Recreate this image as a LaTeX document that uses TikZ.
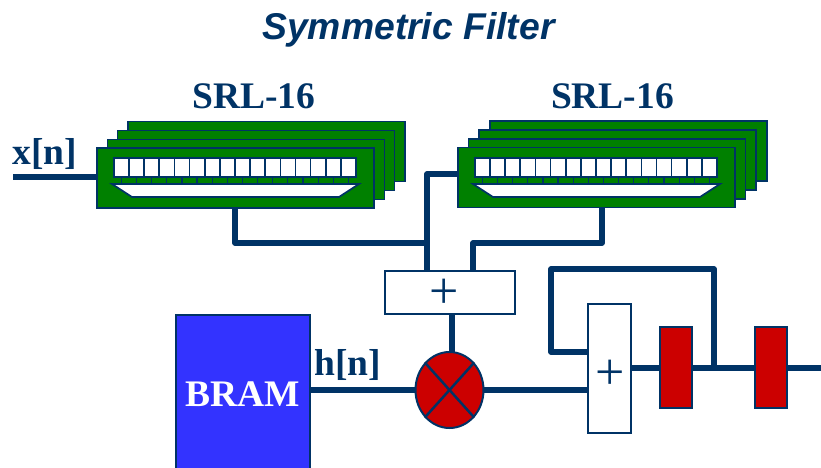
\documentclass[tikz,border=0pt]{standalone}
\usepackage{fontspec}
\setmainfont{Liberation Serif}
\newfontfamily\titlefont{Liberation Sans}
\usetikzlibrary{chains,shapes}
\definecolor{navy}{HTML}{003366}
\definecolor{srlgreen}{HTML}{008000}
\definecolor{mulred}{HTML}{CC0000}
\definecolor{bramblue}{HTML}{3333FF}
\tikzstyle{srlbox}=[draw=navy,fill=srlgreen,line width=1.7pt,minimum width=277pt,minimum height=60pt,outer sep=0pt]
\tikzstyle{cell}=[draw=navy,fill=white,line width=1.7pt,minimum width=15.13pt,minimum height=19pt,inner sep=0pt,outer sep=0pt]
\tikzstyle{tooth}=[draw=navy,fill=srlgreen,line width=1.2pt,minimum width=15.13pt,minimum height=7pt,inner sep=0pt,outer sep=0pt]
\tikzstyle{mux}=[draw=navy,fill=white,line width=1.7pt]
\tikzstyle{addbox}=[draw=navy,fill=white,line width=1.5pt,inner sep=0pt,outer sep=0pt]
\tikzstyle{regbox}=[draw=navy,fill=mulred,line width=1.5pt,minimum width=32pt,minimum height=81pt,outer sep=0pt]
\tikzstyle{wire}=[draw=navy,line width=5.5pt,line join=round]
\tikzstyle{lbl}=[text=navy,font=\fontsize{37.5}{37.5}\selectfont\bfseries,inner sep=0pt]
\tikzstyle{plus}=[text=navy,font=\fontsize{52}{52}\selectfont,inner sep=0pt]

\begin{document}
\begin{tikzpicture}[x=1pt,y=-1pt]
\useasboundingbox (0,0) rectangle (821,467);
\node [text=navy,font=\titlefont\fontsize{37.3}{37.3}\selectfont\bfseries\itshape,inner sep=0pt] (title) at (408.5,30) {Symmetric Filter};
\node [lbl] (srlAlabel) at (254,96) {SRL-16};
\node [lbl] (srlBlabel) at (612.5,96) {SRL-16};
\node [lbl] (xlabel) at (45,154) {x[n]};
\node [lbl] (hlabel) at (348,365) {h[n]};

% connectors
\coordinate (xin) at (13,177);
\coordinate (tapA) at (428,243);
\coordinate (tapB) at (458,174);
\coordinate (bendB) at (473,243);
\coordinate (addAinA) at (427,271);
\coordinate (addAinB) at (473,271);
\coordinate (srlAout) at (235,208);
\coordinate (srlBout) at (602,207);
\coordinate (multin) at (452,352);
\coordinate (fbtap) at (714,368);
\coordinate (fbcorner) at (551,269);
\coordinate (fbin) at (588,352);
\coordinate (out) at (821,368);
\draw [wire] (xin) -- (97,177);
\draw [wire] (srlAout) |- (tapA);
\draw [wire] (tapB) -| (addAinA);
\draw [wire] (srlBout) |- (bendB) -- (addAinB);
\draw [wire] (multin) -- (452,314);
\draw [wire] (fbtap) |- (fbcorner) |- (fbin);
\draw [wire] (310,390) -- (588,390);
\draw [wire] (631,368) -- (out);

% left stack
\node [srlbox] (srlAd) at (266.5,151.5) {};
\node [srlbox] (srlAc) at (256,160.5) {};
\node [srlbox] (srlAb) at (246,169.5) {};
\node [srlbox] (srlAa) at (235.5,178) {};
\begin{scope}[start chain=teethA going right, node distance=0pt]
    \node [on chain=teethA,tooth] at (129,180.5) {};
    \node [on chain=teethA,tooth] {};
    \node [on chain=teethA,tooth] {};
    \node [on chain=teethA,tooth] {};
    \node [on chain=teethA,tooth] {};
    \node [on chain=teethA,tooth] {};
    \node [on chain=teethA,tooth] {};
    \node [on chain=teethA,tooth] {};
    \node [on chain=teethA,tooth] {};
    \node [on chain=teethA,tooth] {};
    \node [on chain=teethA,tooth] {};
    \node [on chain=teethA,tooth] {};
    \node [on chain=teethA,tooth] {};
    \node [on chain=teethA,tooth] {};
    \node [on chain=teethA,tooth] {};
\end{scope}
\begin{scope}[start chain=cellsA going right, node distance=0pt]
    \node [on chain=cellsA,cell] at (121.5,167.5) {};
    \node [on chain=cellsA,cell] {};
    \node [on chain=cellsA,cell] {};
    \node [on chain=cellsA,cell] {};
    \node [on chain=cellsA,cell] {};
    \node [on chain=cellsA,cell] {};
    \node [on chain=cellsA,cell] {};
    \node [on chain=cellsA,cell] {};
    \node [on chain=cellsA,cell] {};
    \node [on chain=cellsA,cell] {};
    \node [on chain=cellsA,cell] {};
    \node [on chain=cellsA,cell] {};
    \node [on chain=cellsA,cell] {};
    \node [on chain=cellsA,cell] {};
    \node [on chain=cellsA,cell] {};
    \node [on chain=cellsA,cell] {};
\end{scope}
\draw [mux] (112,184) -- (359,184) -- (339,197) -- (132,197) -- cycle;

% right stack
\node [srlbox] (srlBd) at (628.5,151) {};
\node [srlbox] (srlBc) at (617.5,160) {};
\node [srlbox] (srlBb) at (607,169) {};
\node [srlbox] (srlBa) at (596.5,177.5) {};
\begin{scope}[start chain=teethB going right, node distance=0pt]
    \node [on chain=teethB,tooth] at (490,180.5) {};
    \node [on chain=teethB,tooth] {};
    \node [on chain=teethB,tooth] {};
    \node [on chain=teethB,tooth] {};
    \node [on chain=teethB,tooth] {};
    \node [on chain=teethB,tooth] {};
    \node [on chain=teethB,tooth] {};
    \node [on chain=teethB,tooth] {};
    \node [on chain=teethB,tooth] {};
    \node [on chain=teethB,tooth] {};
    \node [on chain=teethB,tooth] {};
    \node [on chain=teethB,tooth] {};
    \node [on chain=teethB,tooth] {};
    \node [on chain=teethB,tooth] {};
    \node [on chain=teethB,tooth] {};
\end{scope}
\begin{scope}[start chain=cellsB going right, node distance=0pt]
    \node [on chain=cellsB,cell] at (482.5,167.5) {};
    \node [on chain=cellsB,cell] {};
    \node [on chain=cellsB,cell] {};
    \node [on chain=cellsB,cell] {};
    \node [on chain=cellsB,cell] {};
    \node [on chain=cellsB,cell] {};
    \node [on chain=cellsB,cell] {};
    \node [on chain=cellsB,cell] {};
    \node [on chain=cellsB,cell] {};
    \node [on chain=cellsB,cell] {};
    \node [on chain=cellsB,cell] {};
    \node [on chain=cellsB,cell] {};
    \node [on chain=cellsB,cell] {};
    \node [on chain=cellsB,cell] {};
    \node [on chain=cellsB,cell] {};
    \node [on chain=cellsB,cell] {};
\end{scope}
\draw [mux] (473,184) -- (720,184) -- (700,197) -- (493,197) -- cycle;

% lower part
\node [addbox,minimum width=130pt,minimum height=43pt] (addA) at (450,292.5) {};
\node [plus] (plusA) at (444,294) {+};
\node [addbox,minimum width=43pt,minimum height=129pt] (addB) at (609.5,368.5) {};
\node [plus] (plusB) at (610,375) {+};
\node [draw=navy,fill=bramblue,line width=1.5pt,minimum width=134pt,minimum height=158pt,text=white,font=\fontsize{37.5}{37.5}\selectfont\bfseries,inner sep=0pt] (bram) at (243,394) {BRAM};
\node [ellipse,draw=navy,fill=mulred,line width=2pt,minimum width=68pt,minimum height=76pt,inner sep=0pt] (mult) at (449.5,390) {};
\draw [navy,line width=2.5pt] (mult.north west) -- (mult.south east);
\draw [navy,line width=2.5pt] (mult.north east) -- (mult.south west);
\node [regbox] (regA) at (676,367.5) {};
\node [regbox] (regB) at (771,367.5) {};
\end{tikzpicture}
\end{document}
